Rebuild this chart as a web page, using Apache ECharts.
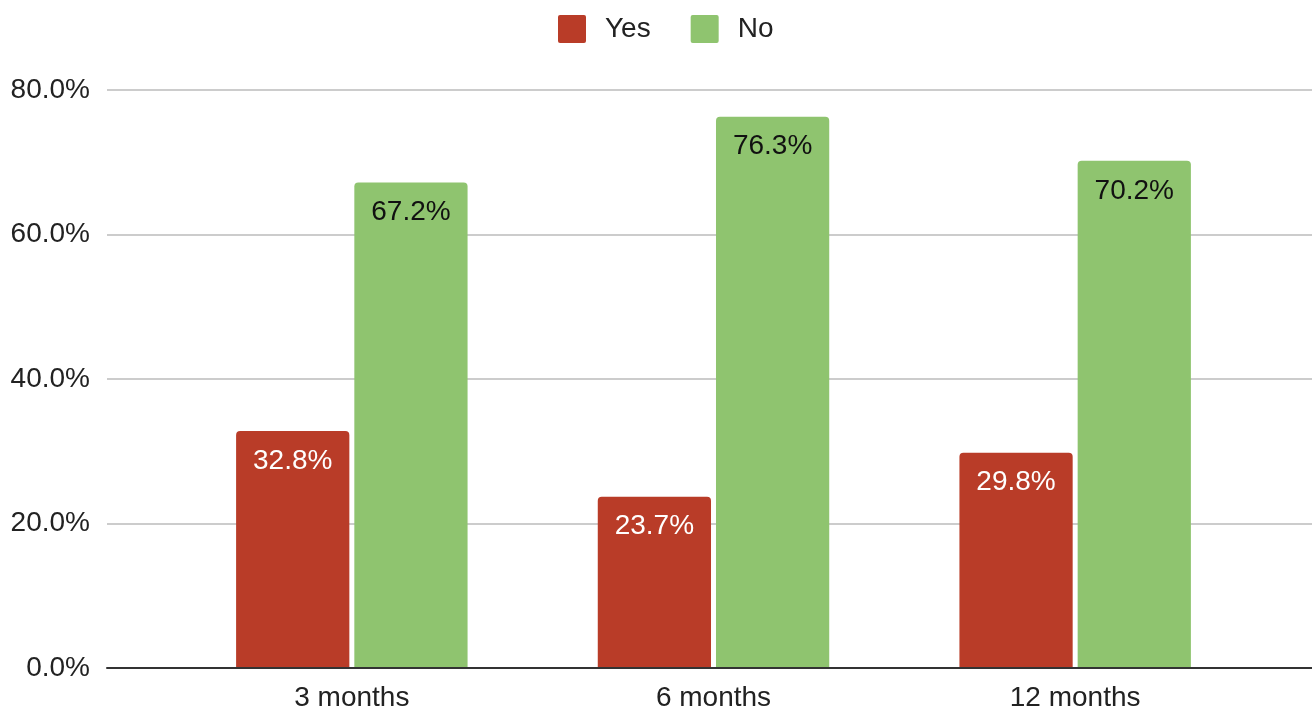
<!DOCTYPE html>
<html>
<head>
<meta charset="utf-8">
<style>
  html, body { margin: 0; padding: 0; background: #ffffff; }
  #chart { width: 1312px; height: 713px; }
</style>
<script src="https://cdn.jsdelivr.net/npm/echarts@6/dist/echarts.min.js"></script>
</head>
<body>
<div id="chart"></div>
<script>
// Follow-up periods and share of answers per period (percent)
const categories = ['3 months', '6 months', '12 months'];
const yesValues = [32.8, 23.7, 29.8];
const noValues = [67.2, 76.3, 70.2];
const seriesNames = ['Yes', 'No'];
const yMin = 0, yMax = 80, yStep = 20;

const FONT = 'Arial, "Liberation Sans", sans-serif';
const RED = '#b93c28';
const GREEN = '#8fc46f';

const chart = echarts.init(document.getElementById('chart'), null, { renderer: 'canvas' });

const pct = v => v.toFixed(1) + '%';
// square legend marker with slightly softened corners
const SQUARE = 'path://M2,0 L26,0 Q28,0 28,2 L28,26 Q28,28 26,28 L2,28 Q0,28 0,26 L0,2 Q0,0 2,0 Z';

chart.setOption({
  animation: false,
  textStyle: { fontFamily: FONT },
  legend: {
    top: 10,
    left: 553,
    itemWidth: 28,
    itemHeight: 28,
    itemGap: 40,
    icon: SQUARE,
    textStyle: { fontSize: 28, color: '#222', padding: [0, 0, 0, 14] },
    data: seriesNames
  },
  grid: [
    // full-width frame: gridlines, value labels and baseline
    { left: 107, right: 0, top: 90, bottom: 45 },
    // bar area
    { left: 171, right: 56, top: 90, bottom: 45 }
  ],
  xAxis: [
    {
      gridIndex: 0, type: 'category', data: [''],
      axisLine: { lineStyle: { color: '#333', width: 2 } },
      axisTick: { show: false }, axisLabel: { show: false }, z: 5
    },
    {
      gridIndex: 1, type: 'category', data: categories,
      axisLine: { show: false }, axisTick: { show: false },
      axisLabel: { fontSize: 28, color: '#222', margin: 16 }
    }
  ],
  yAxis: [
    {
      gridIndex: 0, type: 'value', min: yMin, max: yMax, interval: yStep,
      axisLine: { show: false }, axisTick: { show: false },
      axisLabel: { fontSize: 28, color: '#222', margin: 17, formatter: v => pct(v) },
      splitLine: { lineStyle: { color: '#cccccc', width: 2 } }
    },
    {
      gridIndex: 1, type: 'value', min: yMin, max: yMax, interval: yStep,
      axisLine: { show: false }, axisTick: { show: false },
      axisLabel: { show: false }, splitLine: { show: false }
    }
  ],
  series: [
    {
      name: seriesNames[0], type: 'bar', xAxisIndex: 1, yAxisIndex: 1,
      data: yesValues, barGap: '4.4%', barCategoryGap: '36%',
      itemStyle: { color: RED, borderRadius: [4, 4, 0, 0] },
      label: { show: true, position: 'insideTop', distance: 16, fontSize: 28, color: '#ffffff', formatter: p => pct(p.value) }
    },
    {
      name: seriesNames[1], type: 'bar', xAxisIndex: 1, yAxisIndex: 1,
      data: noValues, barGap: '4.4%', barCategoryGap: '36%',
      itemStyle: { color: GREEN, borderRadius: [4, 4, 0, 0] },
      label: { show: true, position: 'insideTop', distance: 16, fontSize: 28, color: '#111111', formatter: p => pct(p.value) }
    }
  ]
});
</script>
</body>
</html>
